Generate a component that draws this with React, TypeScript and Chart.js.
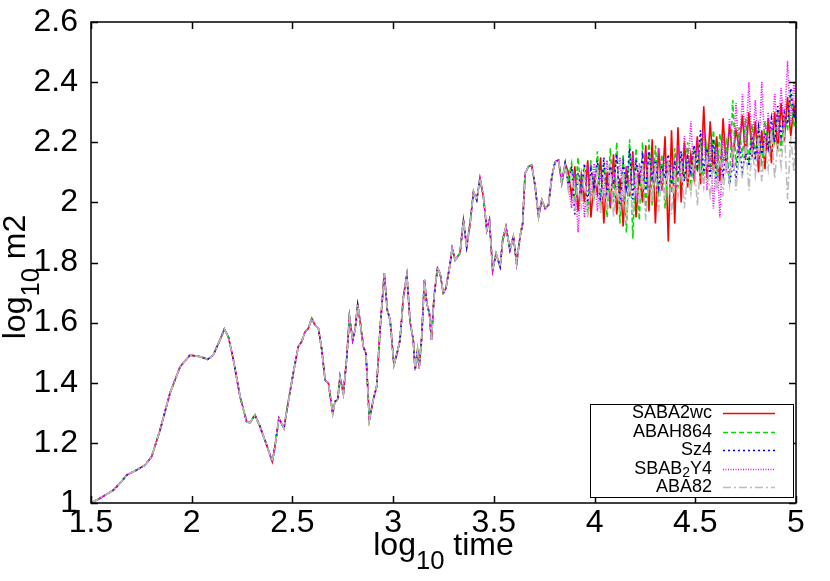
import React, { useEffect, useRef } from 'react';
import { Chart, registerables } from 'chart.js';

Chart.register(...registerables);

const FONT = '"Liberation Sans", Arial, Helvetica, sans-serif';

const xTicks = [1.5, 2, 2.5, 3, 3.5, 4, 4.5, 5];
const yTicks = [1, 1.2, 1.4, 1.6, 1.8, 2, 2.2, 2.4, 2.6];
const xTickLabels = ['1.5', '2', '2.5', '3', '3.5', '4', '4.5', '5'];
const yTickLabels = ['1', '1.2', '1.4', '1.6', '1.8', '2', '2.2', '2.4', '2.6'];

const seriesNames = ['SABA2wc', 'ABAH864', 'Sz4', 'SBAB2Y4', 'ABA82'];

// common part of all runs (log10 time, log10 m2)
const timeShared = [
  1.500, 1.545, 1.611, 1.650, 1.677, 1.727, 1.768, 1.801, 1.843, 1.892,
  1.942, 1.992, 2.041, 2.079, 2.107, 2.140, 2.162, 2.182, 2.207, 2.240,
  2.273, 2.289, 2.314, 2.339, 2.372, 2.400, 2.413, 2.433, 2.458, 2.475,
  2.504, 2.529, 2.546, 2.563, 2.579, 2.596, 2.612, 2.629, 2.646, 2.662,
  2.679, 2.700, 2.711, 2.725, 2.736, 2.753, 2.770, 2.783, 2.799, 2.811,
  2.824, 2.835, 2.852, 2.865, 2.882, 2.901, 2.918, 2.935, 2.956, 2.971,
  2.985, 3.004, 3.020, 3.034, 3.051, 3.068, 3.084, 3.100, 3.109, 3.121,
  3.129, 3.142, 3.155, 3.167, 3.180, 3.190, 3.203, 3.220, 3.233, 3.249,
  3.262, 3.283, 3.293, 3.308, 3.332, 3.349, 3.365, 3.382, 3.399, 3.415,
  3.431, 3.448, 3.465, 3.478, 3.494, 3.511, 3.531, 3.544, 3.560, 3.580,
  3.597, 3.613, 3.630, 3.643, 3.655, 3.672, 3.688, 3.705, 3.722, 3.738,
  3.755, 3.771, 3.788, 3.804, 3.821, 3.837, 3.854,
];
const m2Shared = [
  1.000, 1.016, 1.043, 1.070, 1.093, 1.110, 1.126, 1.154, 1.243, 1.365,
  1.453, 1.492, 1.487, 1.478, 1.492, 1.542, 1.578, 1.553, 1.476, 1.354,
  1.270, 1.267, 1.293, 1.254, 1.193, 1.137, 1.187, 1.282, 1.248, 1.320,
  1.431, 1.520, 1.537, 1.570, 1.581, 1.614, 1.592, 1.581, 1.509, 1.409,
  1.398, 1.298, 1.337, 1.345, 1.420, 1.363, 1.487, 1.620, 1.542, 1.576,
  1.659, 1.609, 1.520, 1.498, 1.276, 1.343, 1.387, 1.576, 1.764, 1.642,
  1.609, 1.459, 1.500, 1.542, 1.686, 1.758, 1.603, 1.542, 1.442, 1.509,
  1.448, 1.553, 1.742, 1.664, 1.631, 1.542, 1.686, 1.781, 1.764, 1.698,
  1.714, 1.797, 1.847, 1.808, 1.831, 1.941, 1.852, 1.930, 2.036, 2.008,
  2.080, 2.019, 1.908, 1.941, 1.775, 1.830, 1.786, 1.875, 1.919, 1.842,
  1.886, 1.797, 1.886, 1.930, 2.097, 2.119, 2.124, 2.053, 1.952, 2.008,
  1.980, 1.991, 2.086, 2.135, 2.141, 2.064, 2.130,
];

// diverging part, one list per integrator
const timeTail = [
  3.870, 3.886, 3.902, 3.918, 3.934, 3.950, 3.966, 3.982, 3.998, 4.014,
  4.030, 4.046, 4.062, 4.078, 4.094, 4.110, 4.126, 4.142, 4.158, 4.174,
  4.190, 4.206, 4.222, 4.238, 4.254, 4.270, 4.286, 4.302, 4.318, 4.334,
  4.350, 4.366, 4.382, 4.398, 4.414, 4.430, 4.446, 4.462, 4.478, 4.494,
  4.510, 4.526, 4.542, 4.558, 4.574, 4.590, 4.606, 4.622, 4.638, 4.654,
  4.670, 4.686, 4.702, 4.718, 4.734, 4.750, 4.766, 4.782, 4.798, 4.814,
  4.830, 4.846, 4.862, 4.878, 4.894, 4.910, 4.926, 4.942, 4.958, 4.974,
  4.990, 5.000,
];
const m2SABA2wc = [
  2.10, 2.02, 2.12, 1.97, 2.09, 2.00, 2.14, 1.95, 2.08, 2.03,
  2.15, 1.93, 2.10, 1.98, 2.16, 1.96, 2.08, 1.92, 2.12, 2.02,
  2.17, 1.95, 2.10, 2.00, 2.19, 1.97, 2.21, 1.93, 2.18, 2.04,
  2.22, 1.87, 2.24, 1.93, 2.25, 2.00, 2.20, 2.05, 2.16, 2.08,
  2.22, 2.06, 2.32, 2.08, 2.27, 2.10, 2.22, 2.07, 2.28, 2.12,
  2.26, 2.15, 2.24, 2.18, 2.29, 2.14, 2.30, 2.15, 2.27, 2.10,
  2.24, 2.11, 2.28, 2.13, 2.30, 2.17, 2.33, 2.20, 2.35, 2.22,
  2.32, 2.26,
];
const m2ABAH864 = [
  2.08, 2.13, 2.00, 2.15, 2.03, 2.12, 1.96, 2.14, 2.01, 2.17,
  1.98, 2.13, 1.95, 2.18, 2.00, 2.20, 1.93, 2.16, 1.90, 2.21,
  1.88, 2.18, 1.94, 2.20, 1.97, 2.21, 1.99, 2.19, 2.02, 2.16,
  1.98, 2.14, 2.03, 2.18, 2.05, 2.15, 2.08, 2.20, 2.04, 2.17,
  2.10, 2.21, 2.06, 2.19, 2.12, 2.24, 2.09, 2.23, 2.14, 2.20,
  2.06, 2.34, 2.12, 2.25, 2.15, 2.28, 2.13, 2.26, 2.16, 2.24,
  2.12, 2.27, 2.18, 2.25, 2.20, 2.30, 2.17, 2.28, 2.24, 2.35,
  2.25, 2.30,
];
const m2Sz4 = [
  2.05, 2.12, 1.96, 2.10, 2.04, 2.13, 1.99, 2.11, 2.05, 2.14,
  2.00, 2.15, 2.02, 2.12, 2.06, 2.16, 1.99, 2.13, 2.05, 2.18,
  2.01, 2.14, 2.07, 2.15, 2.04, 2.17, 2.08, 2.14, 2.05, 2.12,
  2.08, 2.16, 2.06, 2.13, 2.09, 2.17, 2.07, 2.15, 2.10, 2.19,
  2.12, 2.24, 2.10, 2.18, 2.08, 2.21, 2.05, 2.16, 2.09, 2.17,
  2.06, 2.13, 2.08, 2.20, 2.10, 2.18, 2.12, 2.22, 2.14, 2.25,
  2.16, 2.23, 2.18, 2.28, 2.20, 2.32, 2.22, 2.30, 2.26, 2.38,
  2.28, 2.34,
];
const m2SBAB2Y4 = [
  2.06, 1.98, 2.10, 1.90, 2.08, 1.95, 2.12, 2.02, 2.13, 1.97,
  2.10, 2.03, 2.14, 1.99, 2.11, 2.04, 2.15, 2.00, 2.12, 2.06,
  2.16, 2.01, 2.13, 2.07, 2.17, 2.03, 2.14, 2.08, 2.18, 2.04,
  2.15, 2.09, 2.13, 2.05, 2.19, 2.07, 2.22, 2.10, 2.27, 2.08,
  2.21, 2.12, 2.25, 2.04, 2.20, 1.98, 2.18, 1.95, 2.22, 2.10,
  2.28, 2.12, 2.33, 2.15, 2.36, 2.18, 2.40, 2.16, 2.34, 2.14,
  2.40, 2.17, 2.30, 2.20, 2.36, 2.22, 2.38, 2.25, 2.47, 2.26,
  2.40, 2.32,
];
const m2ABA82 = [
  2.04, 2.10, 1.97, 2.08, 1.99, 2.11, 1.95, 2.07, 2.00, 2.12,
  1.96, 2.09, 1.98, 2.13, 1.95, 2.08, 1.97, 2.11, 1.93, 2.07,
  1.96, 2.10, 1.99, 2.12, 1.94, 2.08, 2.00, 2.13, 1.97, 2.09,
  2.01, 2.14, 1.96, 2.11, 2.02, 2.13, 1.98, 2.10, 2.03, 2.15,
  1.99, 2.12, 2.05, 2.16, 2.01, 2.13, 2.04, 2.18, 2.02, 2.15,
  2.06, 2.19, 2.04, 2.16, 2.08, 2.20, 2.04, 2.18, 2.09, 2.22,
  2.07, 2.19, 2.11, 2.24, 2.08, 2.20, 2.12, 2.25, 2.01, 2.22,
  2.10, 2.27,
];

const tails = [m2SABA2wc, m2ABAH864, m2Sz4, m2SBAB2Y4, m2ABA82];
const colors = ['#ff0000', '#00e000', '#0000ff', '#ff00ff', '#bdbdbd'];
const dashes = [[], [5, 3], [2, 3], [1, 1.5], [8, 3, 2, 3]];

// target plot frame (pixels of the 830x581 page)
const AREA = { left: 91, right: 796, top: 22, bottom: 503 };

function buildPoints(tail: number[]) {
  const pts = timeShared.map((t, i) => ({ x: t, y: m2Shared[i] }));
  timeTail.forEach((t, i) => pts.push({ x: t, y: tail[i] }));
  return pts;
}

function drawSubText(
  ctx: CanvasRenderingContext2D,
  parts: { t: string; sub?: boolean }[],
  size: number,
  subSize: number,
  subShift: number,
  align: 'center' | 'right',
  x: number,
  y: number,
) {
  const widths = parts.map((p) => {
    ctx.font = `${p.sub ? subSize : size}px ${FONT}`;
    return ctx.measureText(p.t).width;
  });
  const total = widths.reduce((a, b) => a + b, 0);
  let cx = align === 'center' ? x - total / 2 : x - total;
  ctx.textAlign = 'left';
  parts.forEach((p, i) => {
    ctx.font = `${p.sub ? subSize : size}px ${FONT}`;
    ctx.fillText(p.t, cx, y + (p.sub ? subShift : 0));
    cx += widths[i];
  });
}

const decorPlugin = {
  id: 'decor',
  afterDraw(chart: any) {
    const { ctx, chartArea } = chart;
    const { left, right, top, bottom } = chartArea;
    const xs = chart.scales.x;
    const ys = chart.scales.y;
    ctx.save();
    ctx.strokeStyle = '#000';
    ctx.lineWidth = 1.5;
    ctx.setLineDash([]);
    ctx.strokeRect(left, top, right - left, bottom - top);
    const tl = 7;
    ctx.beginPath();
    xTicks.forEach((v) => {
      const px = Math.round(xs.getPixelForValue(v)) + 0.5;
      ctx.moveTo(px, bottom);
      ctx.lineTo(px, bottom - tl);
      ctx.moveTo(px, top);
      ctx.lineTo(px, top + tl);
    });
    yTicks.forEach((v) => {
      const py = Math.round(ys.getPixelForValue(v)) + 0.5;
      ctx.moveTo(left, py);
      ctx.lineTo(left + tl, py);
      ctx.moveTo(right, py);
      ctx.lineTo(right - tl, py);
    });
    ctx.stroke();

    // axis titles
    ctx.fillStyle = '#000';
    ctx.textBaseline = 'alphabetic';
    drawSubText(ctx, [{ t: 'log' }, { t: '10', sub: true }, { t: ' time' }], 32, 25.6, 14, 'center', (left + right) / 2, 555);
    ctx.save();
    ctx.translate(25, 277);
    ctx.rotate(-Math.PI / 2);
    drawSubText(ctx, [{ t: 'log' }, { t: '10', sub: true }, { t: ' m2' }], 32, 25.6, 14, 'center', 0, 0);
    ctx.restore();

    // legend (gnuplot style key)
    const bx = 590, by = 404, bw = 203, bh = 93;
    ctx.fillStyle = '#fff';
    ctx.fillRect(bx, by, bw, bh);
    ctx.strokeStyle = '#000';
    ctx.lineWidth = 1;
    ctx.strokeRect(bx + 0.5, by + 0.5, bw, bh);
    const labelParts: { t: string; sub?: boolean }[][] = [
      [{ t: 'SABA2wc' }],
      [{ t: 'ABAH864' }],
      [{ t: 'Sz4' }],
      [{ t: 'SBAB' }, { t: '2', sub: true }, { t: 'Y4' }],
      [{ t: 'ABA82' }],
    ];
    ctx.textBaseline = 'middle';
    seriesNames.forEach((_, i) => {
      const cy = 413 + i * 18.6;
      ctx.fillStyle = '#000';
      drawSubText(ctx, labelParts[i], 18, 14, 4, 'right', 712, cy);
      ctx.strokeStyle = colors[i];
      ctx.lineWidth = 1.5;
      ctx.setLineDash(dashes[i]);
      ctx.beginPath();
      ctx.moveTo(723, Math.round(cy) + 0.5);
      ctx.lineTo(775, Math.round(cy) + 0.5);
      ctx.stroke();
    });
    ctx.restore();
  },
};

function zeroPadding(s: any) {
  s.paddingTop = 0;
  s.paddingBottom = 0;
  s.paddingLeft = 0;
  s.paddingRight = 0;
}

export default function App() {
  const ref = useRef<HTMLCanvasElement | null>(null);
  useEffect(() => {
    document.body.style.margin = '0';
    const canvas = ref.current;
    if (!canvas) return;
    const datasets = seriesNames.map((name, i) => ({
      label: name,
      data: buildPoints(tails[i]),
      borderColor: colors[i],
      backgroundColor: colors[i],
      borderWidth: 1.6,
      borderDash: dashes[i],
      pointRadius: 0,
      tension: 0,
      fill: false,
      order: 5 - i,
    }));
    const padding = { top: AREA.top, right: 830 - AREA.right, left: 0, bottom: 0 };
    const chart = new Chart(canvas, {
      type: 'line',
      data: { datasets },
      options: {
        animation: false,
        responsive: false,
        devicePixelRatio: 1,
        layout: { padding },
        plugins: { legend: { display: false }, tooltip: { enabled: false } },
        scales: {
          x: {
            type: 'linear',
            min: 1.5,
            max: 5,
            grid: { display: false, drawTicks: false },
            border: { display: false },
            afterBuildTicks: (s: any) => {
              s.ticks = xTicks.map((v) => ({ value: v }));
            },
            afterFit: (s: any) => {
              s.height = 581 - AREA.bottom;
              zeroPadding(s);
            },
            ticks: {
              autoSkip: false,
              maxRotation: 0,
              padding: 1,
              color: '#000',
              font: { family: FONT, size: 32 },
              callback: (v: any) => xTickLabels[xTicks.indexOf(Number(v))] ?? String(v),
            },
          },
          y: {
            type: 'linear',
            min: 1,
            max: 2.6,
            grid: { display: false, drawTicks: false },
            border: { display: false },
            afterBuildTicks: (s: any) => {
              s.ticks = yTicks.map((v) => ({ value: v }));
            },
            afterFit: (s: any) => {
              s.width = AREA.left;
              zeroPadding(s);
            },
            ticks: {
              autoSkip: false,
              padding: 13,
              color: '#000',
              font: { family: FONT, size: 32 },
              callback: (v: any) => {
                const idx = yTicks.findIndex((t) => Math.abs(t - Number(v)) < 1e-6);
                return idx >= 0 ? yTickLabels[idx] : String(v);
              },
            },
          },
        },
      },
      plugins: [decorPlugin],
    });
    // nudge layout padding so the plot frame lands on the target pixels
    for (let k = 0; k < 3; k++) {
      const ca = chart.chartArea;
      const dt = ca.top - AREA.top;
      const dr = ca.right - AREA.right;
      const db = ca.bottom - AREA.bottom;
      const dl = ca.left - AREA.left;
      if (Math.abs(dt) < 0.5 && Math.abs(dr) < 0.5 && Math.abs(db) < 0.5 && Math.abs(dl) < 0.5) break;
      padding.top = Math.max(0, padding.top - dt);
      padding.right = Math.max(0, padding.right + dr);
      padding.bottom = Math.max(0, padding.bottom + db);
      padding.left = Math.max(0, padding.left - dl);
      (chart.options as any).layout.padding = { ...padding };
      chart.update();
    }
    return () => chart.destroy();
  }, []);
  return (
    <div style={{ width: 830, height: 581, background: '#fff' }}>
      <canvas ref={ref} width={830} height={581} />
    </div>
  );
}
